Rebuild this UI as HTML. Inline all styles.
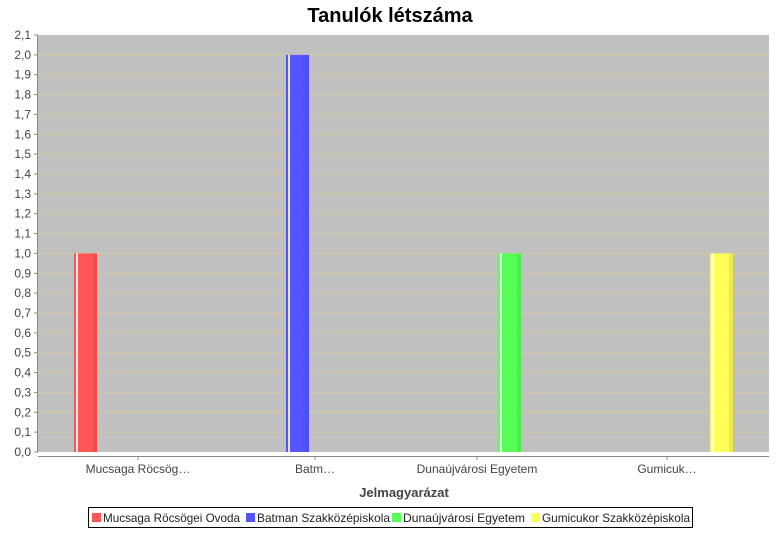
<!DOCTYPE html>
<html><head><meta charset="utf-8"><style>
body{margin:0;background:#fff;font-family:"Liberation Sans","DejaVu Sans",sans-serif}
svg text{font-family:"Liberation Sans","DejaVu Sans",sans-serif}
</style></head><body>
<svg id="c" width="780" height="530" xmlns="http://www.w3.org/2000/svg">
<text x="390" y="22" text-anchor="middle" font-size="20" font-weight="bold">Tanulók létszáma</text>
<rect x="38" y="35" width="731" height="417" fill="#c0c0c0"/>
<g id="grid"></g><g id="bars"></g><g id="axes"></g>
<text x="404" y="497" text-anchor="middle" font-size="13" font-weight="bold" fill="#444">Jelmagyarázat</text>
<g id="legend"></g>
</svg>
<script>
const categories=["Mucsaga Röcsög…","Batm…","Dunaújvárosi Egyetem","Gumicuk…"];
const seriesNames=["Mucsaga Röcsögei Ovoda","Batman Szakközépiskola","Dunaújvárosi Egyetem","Gumicukor Szakközépiskola"];
const values=[1.0,2.0,1.0,1.0];
const seriesColors=["#ff5555","#5555ff","#55ff55","#ffff55"];
const yTicks=[0,0.1,0.2,0.3,0.4,0.5,0.6,0.7,0.8,0.9,1.0,1.1,1.2,1.3,1.4,1.5,1.6,1.7,1.8,1.9,2.0,2.1];
const NS="http://www.w3.org/2000/svg";
const y0=452,y1=35,ymax=2.1;
const y=v=>y0-(v/ymax)*(y0-y1);
const barX=(c,s)=>74+c*189+s*23;
const labelX=[138,315,477,667];
function mk(t,a,p){const e=document.createElementNS(NS,t);for(const k in a)e.setAttribute(k,a[k]);p.appendChild(e);return e;}
const grid=document.getElementById('grid'),axes=document.getElementById('axes'),bars=document.getElementById('bars'),leg=document.getElementById('legend');
yTicks.forEach(v=>{
 if(v>0&&v<2.1){const g=mk('line',{x1:38,x2:769,y1:y(v),y2:y(v),stroke:'#d8c8a0','stroke-width':1},grid);
 
 }
 const t=mk('line',{x1:34,x2:38,y1:y(v),y2:y(v),stroke:'#888'},axes);
 
 
 const l=mk('text',{x:31,y:y(v)+4,'text-anchor':'end','font-size':12,fill:'#444'},axes);
 l.textContent=v.toFixed(1).replace('.',',');
 
 
});
mk('line',{x1:37.5,x2:37.5,y1:35,y2:452,stroke:'#888'},axes);
mk('line',{x1:38,x2:769,y1:456.5,y2:456.5,stroke:'#888'},axes);
values.forEach((v,i)=>{
 const x=barX(i,i);
 const b=mk('rect',{x:x,y:y(v),width:23,height:y0-y(v),fill:seriesColors[i]},bars);
 
 
 mk('rect',{x:x+2,y:y(v),width:2,height:y0-y(v),fill:'#ffffff',opacity:0.85},bars);
 mk('rect',{x:x+19,y:y(v),width:4,height:y0-y(v),fill:'#000',opacity:0.08},bars);
});
categories.forEach((c,i)=>{
 mk('line',{x1:labelX[i],x2:labelX[i],y1:456,y2:460,stroke:'#888'},axes);
 const t=mk('text',{x:labelX[i],y:473,'text-anchor':'middle','font-size':12,fill:'#444'},axes);
 t.textContent=c;
 
 
});
const lb=mk('rect',{x:88.5,y:507.5,width:604,height:20,fill:'#fff',stroke:'#000'},leg);


const lx=[92,246,392,531];
const lw=[137,133,122,148];
seriesNames.forEach((n,i)=>{
 mk('rect',{x:lx[i],y:513,width:9,height:9,fill:seriesColors[i]},leg);
 const t=mk('text',{x:lx[i]+11,y:522,'font-size':12,fill:'#222',textLength:lw[i],lengthAdjust:'spacingAndGlyphs'},leg);
 t.textContent=n;
 
 
});
</script>
</body></html>
